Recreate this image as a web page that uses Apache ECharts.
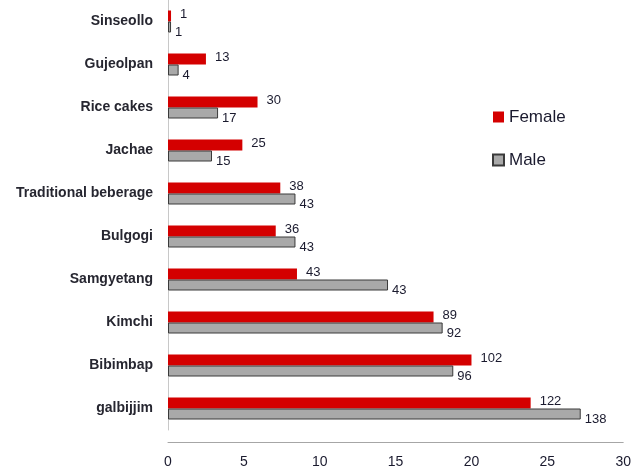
<!DOCTYPE html>
<html>
<head>
<meta charset="utf-8">
<script src="https://cdn.jsdelivr.net/npm/echarts@6/dist/echarts.min.js"></script>
<style>html,body{margin:0;padding:0;background:#fff;}#c{width:634px;height:473px;}</style>
</head>
<body>
<div id="c"></div>
<script>
var categories = ['Sinseollo','Gujeolpan','Rice cakes','Jachae','Traditional beberage','Bulgogi','Samgyetang','Kimchi','Bibimbap','galbijjim'];
var femaleValues = [0.2, 2.5, 5.9, 4.9, 7.4, 7.1, 8.5, 17.5, 20.0, 23.9];
var maleValues = [0.2, 0.7, 3.3, 2.9, 8.4, 8.4, 14.5, 18.1, 18.8, 27.2];
var femaleCounts = [1, 13, 30, 25, 38, 36, 43, 89, 102, 122];
var maleCounts = [1, 4, 17, 15, 43, 43, 43, 92, 96, 138];
var xTicks = [0, 5, 10, 15, 20, 25, 30];

var chart = echarts.init(document.getElementById('c'), null, {renderer: 'canvas'});
var font = 'Liberation Sans';
chart.setOption({
  animation: false,
  backgroundColor: '#ffffff',
  textStyle: {fontFamily: font},
  grid: {left: 168, right: 8, top: 0, bottom: 43, containLabel: false},
  legend: {
    orient: 'vertical',
    left: 487,
    top: 103,
    icon: 'rect',
    itemWidth: 11,
    itemHeight: 11,
    itemGap: 25,
    textStyle: {fontSize: 17, lineHeight: 18, color: '#1a1a2e', fontFamily: font, padding: [0,0,0,0]},
    data: ['Female', 'Male']
  },
  xAxis: {
    type: 'value',
    min: xTicks[0],
    max: xTicks[xTicks.length - 1],
    interval: 5,
    offset: 12,
    axisLine: {show: true, lineStyle: {color: '#a6a6a6', width: 1}},
    axisTick: {show: false},
    splitLine: {show: false},
    axisLabel: {fontSize: 14, color: '#1a1a2e', margin: 13, fontFamily: font}
  },
  yAxis: {
    type: 'category',
    inverse: true,
    data: categories,
    axisLine: {show: true, lineStyle: {color: '#c8c8c8', width: 1}},
    axisTick: {show: false},
    axisLabel: {fontSize: 14, fontWeight: 'bold', color: '#262630', margin: 15, fontFamily: font}
  },
  series: [
    {
      name: 'Female',
      type: 'bar',
      data: femaleValues,
      barWidth: 11,
      barGap: '0%',
      itemStyle: {color: '#d40000'},
      label: {
        show: true,
        position: 'right',
        distance: 9,
        offset: [0, -2],
        fontSize: 13,
        color: '#1a1a2e',
        fontFamily: font,
        formatter: function (p) { return femaleCounts[p.dataIndex]; }
      }
    },
    {
      name: 'Male',
      type: 'bar',
      data: maleValues,
      barWidth: 11,
      barGap: '0%',
      itemStyle: {color: '#a9a9a9', borderColor: '#3a3a3a', borderWidth: 1},
      label: {
        show: true,
        position: 'right',
        distance: 4,
        offset: [0, 5],
        fontSize: 13,
        color: '#1a1a2e',
        fontFamily: font,
        formatter: function (p) { return maleCounts[p.dataIndex]; }
      }
    }
  ]
});
</script>
</body>
</html>
